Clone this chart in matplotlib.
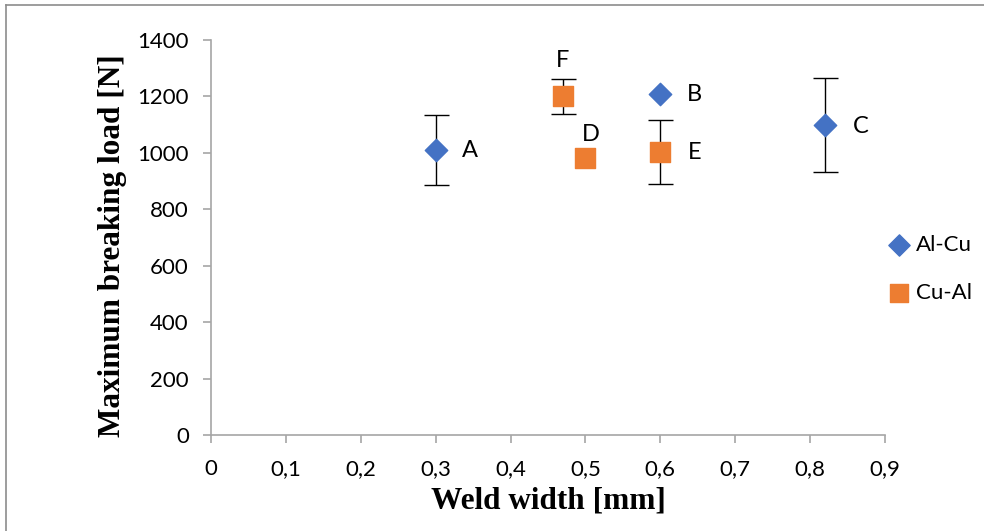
import numpy as np
import matplotlib.pyplot as plt

# Al-Cu series (blue diamonds)
alcu_x = [0.3, 0.6, 0.82]
alcu_y = [1010, 1208, 1099]
alcu_err = [125, 0, 166]
alcu_lbl = ["A", "B", "C"]

# Cu-Al series (orange squares)
cual_x = [0.5, 0.6, 0.47]
cual_y = [982, 1003, 1201]
cual_err = [0, 112, 62]
cual_lbl = ["D", "E", "F"]

x_ticks = [0, 0.1, 0.2, 0.3, 0.4, 0.5, 0.6, 0.7, 0.8, 0.9]
y_ticks = [0, 200, 400, 600, 800, 1000, 1200, 1400]

blue = "#4472C4"
orange = "#ED7D31"
tick_font = "Lato"
serif = "Liberation Serif"

fig = plt.figure(figsize=(9.84, 5.31), dpi=100)
ax = fig.add_axes([211/984, 1 - 435/531, (885 - 211)/984, (435 - 40)/531])

# error bars first, then markers on top
for xs, ys, es in [(alcu_x, alcu_y, alcu_err), (cual_x, cual_y, cual_err)]:
    for x, y, e in zip(xs, ys, es):
        if e > 0:
            ax.errorbar(x, y, yerr=e, fmt="none", ecolor="black",
                        elinewidth=1, capsize=9, capthick=1, zorder=2)

ax.scatter(alcu_x, alcu_y, marker="D", s=130, color=blue, edgecolor=blue,
           zorder=3, label="Al-Cu")
ax.scatter(cual_x, cual_y, marker="s", s=200, color=orange, edgecolor=orange,
           zorder=3, label="Cu-Al")

# point labels (offsets in points)
offsets = {"A": (19, 0), "B": (19, 0), "C": (20, -1), "D": (4, 17),
           "E": (20, 0), "F": (0, 26)}
for xs, ys, labs in [(alcu_x, alcu_y, alcu_lbl), (cual_x, cual_y, cual_lbl)]:
    for x, y, t in zip(xs, ys, labs):
        dx, dy = offsets[t]
        ha = "left" if t in "ABCE" else "center"
        ax.annotate(t, (x, y), xytext=(dx, dy), textcoords="offset points",
                    ha=ha, va="center", fontsize=17, family=tick_font)

ax.set_xlim(0, 0.9)
ax.set_ylim(0, 1400)
ax.set_xticks(x_ticks)
ax.set_xticklabels([("%g" % v).replace(".", ",") for v in x_ticks],
                   fontsize=16, family=tick_font)
ax.set_yticks(y_ticks)
ax.set_yticklabels([str(v) for v in y_ticks], fontsize=16, family=tick_font)

for s in ["top", "right"]:
    ax.spines[s].set_visible(False)
for s in ["left", "bottom"]:
    ax.spines[s].set_color("#A6A6A6")
    ax.spines[s].set_linewidth(1.2)
ax.tick_params(length=6, width=1.2, color="#A6A6A6")
ax.tick_params(axis="y", pad=10)
ax.tick_params(axis="x", pad=11)

ax.set_xlabel("Weld width [mm]", fontsize=22.5, fontweight="bold",
              family=serif, labelpad=6)
ax.set_ylabel("Maximum breaking load [N]", fontsize=22.5, fontweight="bold",
              family=serif)
ax.yaxis.set_label_coords(-0.125, 0.48)

leg = ax.legend(loc="center left", bbox_to_anchor=(1.006, 0.42), frameon=False,
                prop={"family": tick_font, "size": 16}, labelspacing=1.25,
                handlelength=0.9, handletextpad=0.3, markerscale=0.95,
                borderaxespad=0.0, borderpad=0.0)

# outer chart border (only left and top visible in the crop)
fig.add_artist(plt.Line2D([6/984, 6/984], [0, 1 - 5/531], color="#8C8C8C",
                          lw=1.2, transform=fig.transFigure))
fig.add_artist(plt.Line2D([6/984, 1], [1 - 5/531, 1 - 5/531], color="#8C8C8C",
                          lw=1.2, transform=fig.transFigure))

fig.savefig("out.png", dpi=100)
